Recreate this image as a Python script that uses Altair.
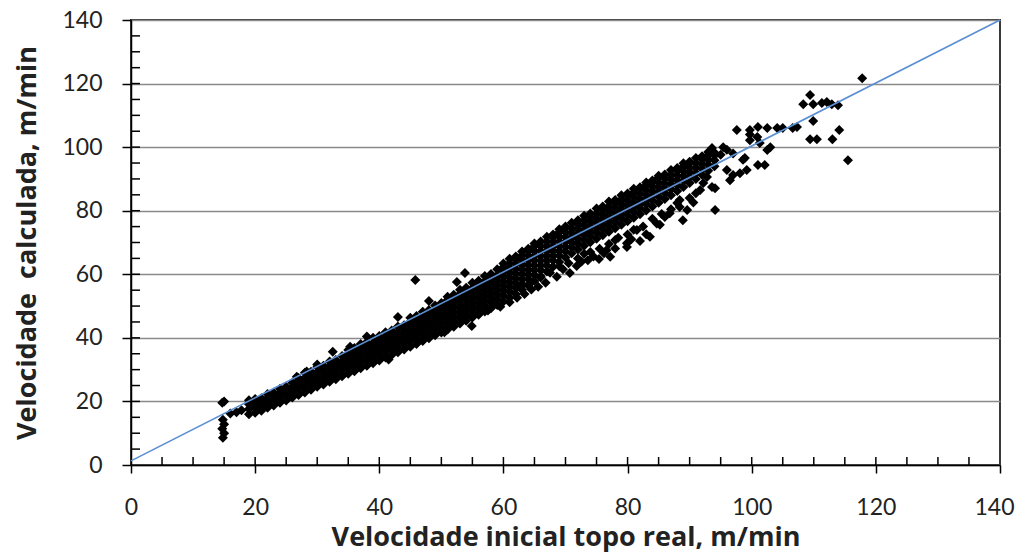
import altair as alt
import pandas as pd

# ---- dense band, read column by column (x in m/min, list of y values) ----
band_x = [19, 20, 21, 22, 23, 24, 25, 26, 27, 28, 29, 30, 31, 32, 33, 34, 35, 36, 37, 38,
          39, 40, 41, 42, 43, 44, 45, 46, 47, 48, 49, 50, 51, 52, 53, 54, 55, 56, 57, 58,
          59, 60, 61, 62, 63, 64, 65, 66, 67, 68, 69, 70, 71, 72, 73, 74, 75, 76, 77, 78,
          79, 80, 81, 82, 83, 84, 85, 86, 87, 88, 89, 90, 91, 92, 93, 94]
band_y = [
    [16.0, 17.6, 19.1, 20.4], [16.4, 18.0, 19.4, 20.8], [17.1, 18.8, 20.3, 21.0],
    [18.0, 19.6, 21.0, 22.3], [18.7, 20.4, 21.8, 22.7], [19.6, 21.2, 22.7, 24.0],
    [20.3, 22.1, 23.5, 24.6], [21.2, 22.9, 24.4, 25.9], [22.0, 23.8, 25.2, 26.6, 27.4],
    [22.8, 24.6, 26.0, 27.4, 29.0], [23.7, 25.4, 26.9, 28.3, 29.3], [24.6, 26.3, 27.7, 29.2, 30.8],
    [25.3, 27.1, 28.6, 30.0, 31.2], [26.2, 27.9, 29.4, 30.9, 32.6], [27.0, 28.8, 30.3, 31.7, 33.0],
    [27.9, 29.7, 31.1, 32.6, 34.3], [28.7, 30.5, 32.0, 33.4, 34.9, 36.2], [29.5, 31.3, 32.8, 34.3, 35.7, 36.8],
    [30.4, 32.2, 33.6, 35.1, 36.6, 38.1], [31.2, 33.0, 34.5, 36.0, 37.4, 38.7], [32.0, 33.8, 35.3, 36.8, 38.3, 40.0],
    [32.9, 34.7, 36.2, 37.7, 39.1, 40.6], [33.8, 35.6, 37.0, 38.5, 40.0, 41.8], [34.6, 36.4, 37.9, 39.4, 40.9, 42.3],
    [35.5, 37.3, 38.8, 40.2, 41.7, 43.6], [36.3, 38.2, 39.6, 41.1, 42.6, 44.0], [37.2, 39.1, 40.5, 42.0, 43.5, 45.0, 46.3],
    [38.1, 39.9, 41.4, 42.9, 44.4, 45.9, 46.9], [39.0, 40.8, 42.3, 43.8, 45.3, 46.8, 48.2],
    [39.9, 41.7, 43.2, 44.7, 46.2, 47.7, 48.8], [40.8, 42.6, 44.1, 45.6, 47.1, 48.6, 50.2],
    [41.7, 43.5, 45.0, 46.5, 48.0, 49.5, 51.0], [42.6, 44.4, 45.9, 47.4, 48.9, 50.4, 51.9, 52.9],
    [43.5, 45.3, 46.8, 48.3, 49.8, 51.3, 52.8, 53.6], [44.5, 46.3, 47.8, 49.3, 50.8, 52.3, 53.8, 55.1],
    [45.4, 47.2, 48.7, 50.2, 51.7, 53.2, 54.7, 55.8], [46.4, 48.2, 49.7, 51.2, 52.7, 54.2, 55.7, 57.3],
    [47.3, 49.2, 50.7, 52.2, 53.7, 55.2, 56.7, 58.0], [48.3, 50.2, 51.7, 53.2, 54.7, 56.2, 57.7, 59.5],
    [49.3, 51.2, 52.7, 54.2, 55.7, 57.2, 58.7, 60.1], [50.3, 52.2, 53.7, 55.2, 56.7, 58.2, 59.7, 61.6],
    [51.4, 53.3, 54.8, 56.3, 57.8, 59.3, 60.8, 62.3, 63.4], [52.6, 54.5, 56.0, 57.5, 59.0, 60.5, 62.0, 63.5, 64.9],
    [53.8, 55.7, 57.2, 58.7, 60.2, 61.7, 63.2, 64.7, 65.6], [55.1, 57.0, 58.5, 60.0, 61.5, 63.0, 64.5, 66.0, 67.2],
    [56.5, 58.4, 59.9, 61.4, 62.9, 64.4, 65.9, 67.4, 68.0], [57.9, 59.8, 61.3, 62.8, 64.3, 65.8, 67.3, 68.8, 69.7],
    [59.4, 61.3, 62.8, 64.3, 65.8, 67.3, 68.8, 70.3], [60.9, 62.8, 64.3, 65.8, 67.3, 68.8, 70.3, 71.8],
    [62.4, 64.3, 65.8, 67.3, 68.8, 70.3, 71.8, 72.5], [63.9, 65.8, 67.3, 68.8, 70.3, 71.8, 73.3, 74.2],
    [65.3, 67.2, 68.7, 70.2, 71.7, 73.2, 74.7, 75.0], [66.6, 68.5, 70.0, 71.5, 73.0, 74.5, 76.2],
    [67.8, 69.7, 71.2, 72.7, 74.2, 75.7, 77.0], [69.0, 70.9, 72.4, 73.9, 75.4, 76.9, 78.4],
    [70.1, 72.0, 73.5, 75.0, 76.5, 78.0, 79.1], [71.2, 73.1, 74.6, 76.1, 77.6, 79.1, 80.7],
    [72.3, 74.2, 75.7, 77.2, 78.7, 80.2, 81.3], [73.4, 75.3, 76.8, 78.3, 79.8, 81.3, 82.9],
    [74.5, 76.4, 77.9, 79.4, 80.9, 82.4, 83.4], [75.6, 77.5, 79.0, 80.5, 82.0, 83.5, 84.9],
    [76.7, 78.6, 80.1, 81.6, 83.1, 84.6, 85.4], [77.8, 79.7, 81.2, 82.7, 84.2, 85.7, 86.9],
    [78.9, 80.8, 82.3, 83.8, 85.3, 86.8, 87.4], [80.1, 82.0, 83.5, 85.0, 86.5, 88.0, 88.9],
    [81.3, 83.2, 84.7, 86.2, 87.7, 89.2, 89.5], [82.5, 84.4, 85.9, 87.4, 88.9, 90.4, 91.0],
    [83.7, 85.6, 87.1, 88.6, 90.1, 91.4], [84.9, 86.8, 88.3, 89.8, 91.3, 92.8],
    [86.2, 88.1, 89.6, 91.1, 92.6, 93.4], [87.5, 89.4, 90.9, 92.4, 93.9, 94.9],
    [88.7, 90.6, 92.1, 93.6, 95.1, 95.4], [90.0, 91.9, 93.4, 94.9, 96.6],
    [91.3, 93.2, 94.7, 96.2, 97.1], [92.6, 94.5, 96.0, 97.5, 98.5], [94.0, 95.9, 97.4, 98.3],
]

# ---- scattered points outside the dense band ----
scatter_x = [15.0, 14.7, 14.8, 15.0, 14.7, 15.0, 14.8, 16.0, 17.0, 17.8,
             26.7, 28.3, 30.0, 32.5, 35.3, 38.0, 43.0, 45.8, 48.0, 52.5, 53.8, 54.9, 50.5, 57.5, 41.5,
             59.5, 61.0, 62.2, 63.4, 64.5, 65.6, 66.8, 68.6, 70.7, 69.6, 71.8, 72.6, 73.6, 74.5, 75.4,
             76.2, 76.6, 77.2, 78.0, 78.0, 79.9, 79.9, 80.6, 81.5, 82.0, 83.0, 83.6, 84.7, 85.2, 86.0,
             86.8, 88.0, 88.4, 88.4, 88.9, 89.6, 90.6, 91.7, 92.2, 92.8, 93.6, 94.1, 94.1,
             63.0, 64.5, 66.0, 67.5, 69.0, 70.5, 72.0, 73.0, 74.0, 75.5, 77.0, 78.5, 80.0, 81.0,
             82.5, 84.0, 85.5, 87.0, 90.0, 91.0,
             95.4, 96.0, 97.0, 98.6, 93.6, 95.0, 96.0, 97.0, 98.1, 99.2, 96.5, 98.9,
             97.6, 99.7, 101.0, 102.5, 104.1, 105.0, 106.6, 107.3, 99.7, 100.9, 101.3, 99.7,
             102.5, 103.0, 101.0, 102.1, 108.3, 109.4, 109.9, 111.3, 112.1, 112.9, 113.9,
             109.9, 109.4, 110.5, 113.0, 114.1, 115.5, 117.8]
scatter_y = [20.0, 19.6, 14.2, 12.8, 11.4, 10.0, 8.6, 16.2, 16.6, 17.2,
             27.8, 29.4, 31.6, 35.6, 37.2, 40.4, 46.6, 58.2, 51.6, 57.6, 60.4, 43.7, 41.8, 48.6, 33.2,
             49.8, 51.2, 52.6, 53.8, 55.2, 56.1, 57.3, 59.2, 60.4, 61.6, 62.6, 64.0, 64.4, 65.6, 64.8,
             66.6, 67.6, 65.5, 68.1, 70.8, 68.6, 69.8, 71.0, 73.9, 70.5, 72.6, 71.8, 76.0, 75.6, 78.0,
             79.2, 82.4, 81.2, 83.4, 77.0, 80.2, 82.6, 86.5, 88.7, 90.6, 87.5, 87.1, 80.2,
             56.5, 57.5, 59.0, 60.5, 62.5, 63.5, 65.0, 66.5, 67.0, 68.0, 69.5, 71.5, 72.5, 74.0,
             75.0, 77.5, 79.0, 80.5, 84.0, 85.5,
             100.0, 99.2, 98.0, 96.0, 99.7, 97.6, 92.8, 91.2, 91.8, 92.8, 89.6, 96.6,
             105.4, 105.4, 106.3, 106.0, 106.0, 106.0, 106.0, 106.3, 102.2, 103.2, 101.3, 104.0,
             99.1, 100.0, 94.4, 94.4, 113.5, 116.4, 113.5, 113.9, 114.2, 113.5, 113.2,
             108.2, 102.5, 102.5, 102.5, 105.4, 95.9, 121.7]

# ---- reference line ----
fit_x = [0, 140]
fit_y = [1.3, 140]

# ---- axis ticks ----
major_ticks = [0, 20, 40, 60, 80, 100, 120, 140]
minor_ticks = [5, 10, 15, 20, 25, 30, 35, 40, 45, 50, 55, 60, 65, 70, 75, 80, 85, 90,
               95, 100, 105, 110, 115, 120, 125, 130, 135]

rows = []
for xv, ys in zip(band_x, band_y):
    for yv in ys:
        rows.append({"x": xv, "y": yv})
for xv, yv in zip(scatter_x, scatter_y):
    rows.append({"x": xv, "y": yv})
pts_df = pd.DataFrame(rows)
fit_df = pd.DataFrame({"x": fit_x, "y": fit_y})
yminor_df = pd.DataFrame({"y": minor_ticks})
xminor_df = pd.DataFrame({"x": minor_ticks})

LFONT = "Lato"
TFONT = "Open Sans"
xs = alt.Scale(domain=[0, 140], nice=False, zero=False)
ys_ = alt.Scale(domain=[0, 140], nice=False, zero=False)

x_axis = alt.Axis(
    values=major_ticks, grid=False, tickSize=8, tickWidth=1.5, tickColor="black",
    domainColor="black", domainWidth=1.5, labelFlush=False,
    labelFont=LFONT, labelFontSize=23, labelColor="#222222", labelPadding=23,
    labelOffset={"condition": {"test": "datum.value == 140", "value": -6}, "value": 0},
    title="Velocidade inicial topo real, m/min", titleFont=TFONT, titleFontSize=27,
    titleFontWeight="bold", titleColor="#222222", titleX=434.5, titleY=80,
    titleBaseline="alphabetic", titleAlign="center",
)
y_axis = alt.Axis(
    values=major_ticks, grid=True, gridColor="#8a8a8a", gridWidth=1.3,
    tickSize=9, tickWidth=1.5, tickColor="black", domainColor="black", domainWidth=1.5,
    labelFont=LFONT, labelFontSize=23, labelColor="#222222", labelPadding=20,
    title="Velocidade\u00a0 calculada, m/min", titleFont=TFONT, titleFontSize=27,
    titleFontWeight="bold", titleColor="#222222", titleX=-96, titleY=222.5,
    titleBaseline="alphabetic", titleAlign="center", titleAngle=270,
)

points = alt.Chart(pts_df).mark_point(
    shape="diamond", filled=True, color="black", size=100, opacity=1
).encode(
    x=alt.X("x:Q", scale=xs, axis=x_axis),
    y=alt.Y("y:Q", scale=ys_, axis=y_axis),
)

fit = alt.Chart(fit_df).mark_line(color="#5b8fd3", strokeWidth=1.6).encode(
    x=alt.X("x:Q", scale=xs), y=alt.Y("y:Q", scale=ys_)
)

y_minor = alt.Chart(yminor_df).mark_rule(color="black", strokeWidth=1.5).encode(
    y=alt.Y("y:Q", scale=ys_), x=alt.value(0), x2=alt.value(9)
)
x_minor = alt.Chart(xminor_df).mark_rule(color="black", strokeWidth=1.5).encode(
    x=alt.X("x:Q", scale=xs), y=alt.value(445), y2=alt.value(437)
)

chart = alt.layer(points, fit, y_minor, x_minor).properties(
    width=869, height=445,
    autosize=alt.AutoSizeParams(type="none"),
    padding={"left": 123, "top": 12, "right": 15, "bottom": 88},
    background="white",
).configure_view(stroke="#3a3a3a", strokeWidth=2)

chart.save("out.html", embed_options={"renderer": "svg", "actions": False})
